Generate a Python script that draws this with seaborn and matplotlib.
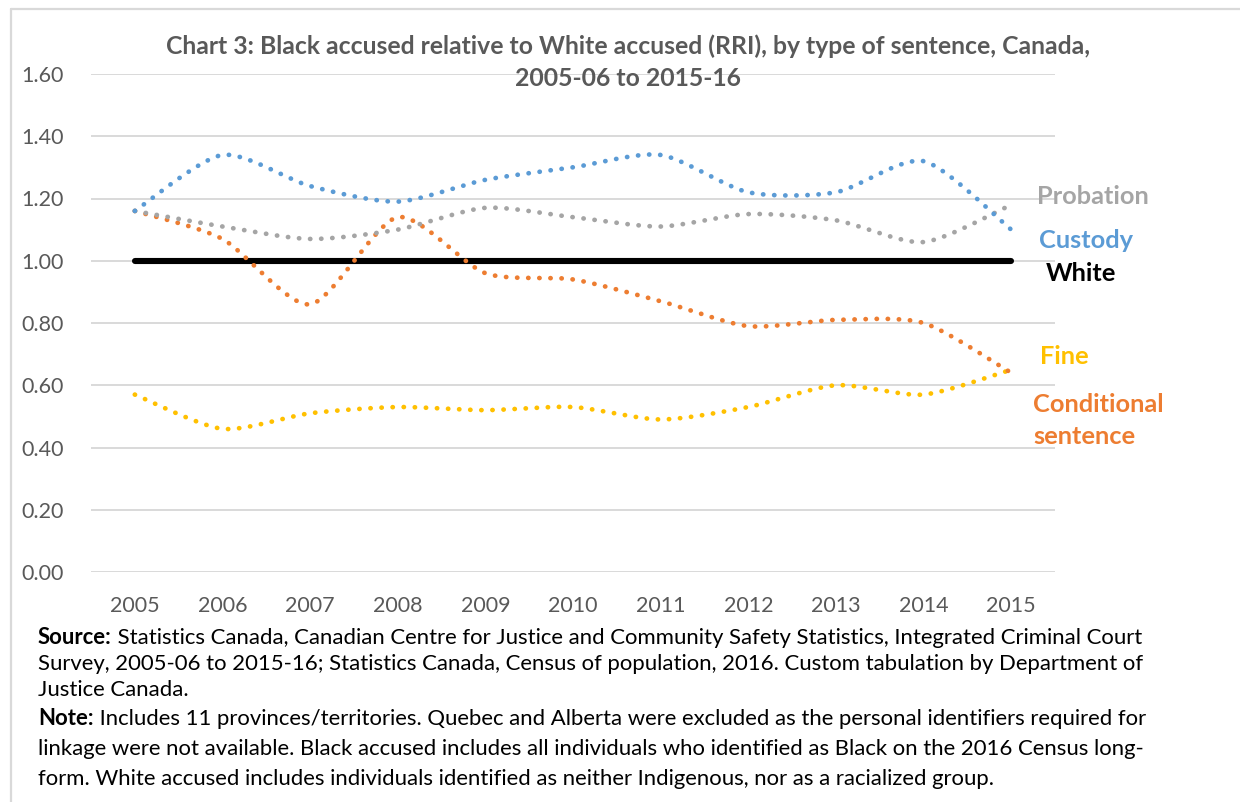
import numpy as np
import pandas as pd
import matplotlib
matplotlib.use("Agg")
import matplotlib.pyplot as plt
import seaborn as sns

# ---------------- data ----------------
years = ["2005", "2006", "2007", "2008", "2009", "2010", "2011", "2012", "2013", "2014", "2015"]
custody = [1.16, 1.34, 1.24, 1.19, 1.26, 1.30, 1.34, 1.22, 1.22, 1.32, 1.10]
probation = [1.16, 1.11, 1.07, 1.10, 1.17, 1.14, 1.11, 1.15, 1.13, 1.06, 1.18]
conditional = [1.16, 1.07, 0.86, 1.14, 0.96, 0.94, 0.87, 0.79, 0.81, 0.80, 0.64]
fine = [0.57, 0.46, 0.51, 0.53, 0.52, 0.53, 0.49, 0.53, 0.60, 0.57, 0.65]
white = [1.00] * 11
yticks = [0.0, 0.2, 0.4, 0.6, 0.8, 1.0, 1.2, 1.4, 1.6]

W, H = 1240, 802
FONT = "Lato"

sns.set_theme(style="white")
plt.rcParams["font.family"] = [FONT, "DejaVu Sans"]

fig = plt.figure(figsize=(W / 100, H / 100), dpi=100)
ax = fig.add_axes([91 / W, 1 - 572 / H, (1055 - 91) / W, (572 - 74) / H])


def smooth(y, n=40, k=1 / 8):
    """Smoothed curve (cubic Bezier through the points)."""
    x = np.arange(len(y), dtype=float)
    y = np.asarray(y, dtype=float)
    P = np.column_stack([x, y])
    out = [P[0]]
    t = np.linspace(0, 1, n)[1:]
    for i in range(len(P) - 1):
        p0 = P[i]
        p3 = P[i + 1]
        pm = P[i - 1] if i > 0 else P[i]
        pp = P[i + 2] if i + 2 < len(P) else P[i + 1]
        c1 = p0 + (p3 - pm) * k
        c2 = p3 - (pp - p0) * k
        seg = ((1 - t) ** 3)[:, None] * p0 + (3 * (1 - t) ** 2 * t)[:, None] * c1 \
            + (3 * (1 - t) * t ** 2)[:, None] * c2 + (t ** 3)[:, None] * p3
        out.extend(seg)
    out = np.array(out)
    return out[:, 0], out[:, 1]


series = [
    ("Fine", fine, "#FFC000"),
    ("Conditional sentence", conditional, "#ED7D31"),
    ("Probation", probation, "#A5A5A5"),
    ("Custody", custody, "#5B9BD5"),
]

# White reference line
sns.lineplot(x=np.arange(len(years)), y=white, ax=ax, color="black", linewidth=4.4,
             solid_capstyle="round", zorder=3)

for name, vals, col in series:
    sx, sy = smooth(vals)
    sns.lineplot(x=sx, y=sy, ax=ax, color=col, linewidth=3.4, sort=False,
                 estimator=None, linestyle=(0, (0.05, 2.3)), dash_capstyle="round",
                 zorder=4)

ax.set_xlim(-0.5, len(years) - 0.5)
ax.set_ylim(0, 1.6)
ax.set_yticks(yticks)
ax.set_yticklabels([f"{v:.2f}" for v in yticks])
ax.set_xticks(np.arange(len(years)))
ax.set_xticklabels(years)
ax.tick_params(axis="y", labelsize=15.5, labelcolor="#595959", pad=19.5, length=0)
ax.tick_params(axis="x", labelsize=15.5, labelcolor="#595959", pad=17, length=0)
ax.grid(axis="y", color="#D9D9D9", linewidth=1.4)
ax.grid(axis="x", visible=False)
for s in ax.spines.values():
    s.set_visible(False)
ax.set_xlabel("")
ax.set_ylabel("")
ax.set_facecolor("none")

# outer chart frame (left and top edges visible)
fig.add_artist(plt.Line2D([11 / W, 11 / W], [0, 1 - 9 / H], color="#D9D9D9", lw=1.6,
                          transform=fig.transFigure))
fig.add_artist(plt.Line2D([11 / W, 1], [1 - 9 / H, 1 - 9 / H], color="#D9D9D9", lw=1.6,
                          transform=fig.transFigure))

# title
fig.text(628 / W, 1 - 46 / H,
         "Chart 3: Black accused relative to White accused (RRI), by type of sentence, Canada,",
         ha="center", va="center", fontsize=17.8, fontweight="bold", color="#595959")
fig.text(628 / W, 1 - 79 / H, "2005-06 to 2015-16",
         ha="center", va="center", fontsize=17.8, fontweight="bold", color="#595959")

# series labels
labels = [
    ("Probation", 1037, 197, "#A5A5A5"),
    ("Custody", 1039, 240, "#5B9BD5"),
    ("White", 1046, 274, "#000000"),
    ("Fine", 1040, 357, "#FFC000"),
    ("Conditional", 1033, 404, "#ED7D31"),
    ("sentence", 1033, 436, "#ED7D31"),
]
for txt, x, y, c in labels:
    fig.text(x / W, 1 - y / H, txt, ha="left", va="center", fontsize=18.3,
             fontweight="bold", color=c)

# footnotes
FS = 15.9
notes = [
    ("Source:", " Statistics Canada, Canadian Centre for Justice and Community Safety Statistics, Integrated Criminal Court", 638),
    ("", "Survey, 2005-06 to 2015-16; Statistics Canada, Census of population, 2016. Custom tabulation by Department of", 664),
    ("", "Justice Canada.", 690),
    ("Note:", " Includes 11 provinces/territories. Quebec and Alberta were excluded as the personal identifiers required for", 719),
    ("", "linkage were not available. Black accused includes all individuals who identified as Black on the 2016 Census long-", 749),
    ("", "form. White accused includes individuals identified as neither Indigenous, nor as a racialized group.", 779),
]
for bold, rest, y in notes:
    if bold:
        t1 = fig.text(38 / W, 1 - (y + 6) / H, bold, ha="left", va="baseline", fontsize=FS,
                      fontweight="bold", color="black")
        ax.annotate(rest, xy=(1, 0), xycoords=t1, ha="left", va="bottom",
                    fontsize=FS, color="black", annotation_clip=False)
    else:
        fig.text(38 / W, 1 - (y + 6) / H, rest, ha="left", va="baseline", fontsize=FS,
                 color="black")

fig.savefig("out.png", dpi=100)
